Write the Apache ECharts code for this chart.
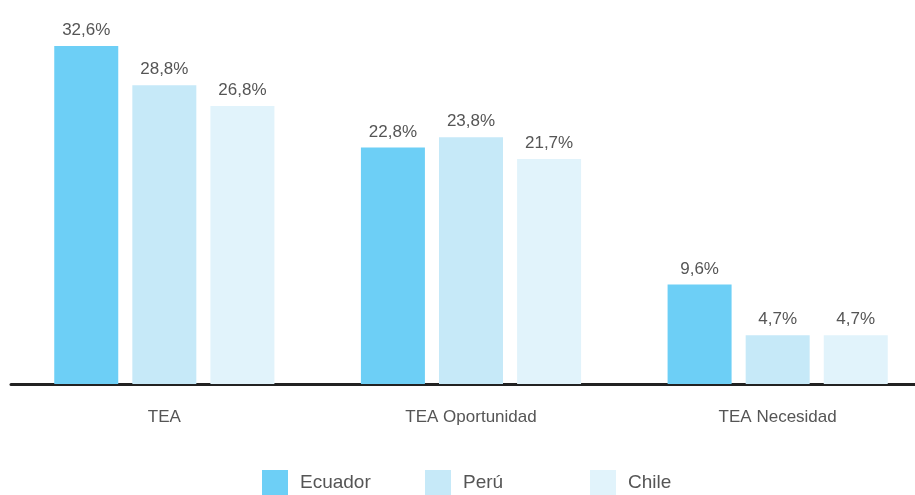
<!DOCTYPE html>
<html>
<head>
<meta charset="utf-8">
<script src="https://cdn.jsdelivr.net/npm/echarts@6/dist/echarts.min.js"></script>
<style>
  html, body { margin: 0; padding: 0; background: #fff; overflow: hidden; }
  #chart { width: 935px; height: 495px; }
</style>
</head>
<body>
<div id="chart"></div>
<script>
var categories = ['TEA', 'TEA Oportunidad', 'TEA Necesidad'];
var seriesNames = ['Ecuador', 'Perú', 'Chile'];
var ecuador = [32.6, 22.8, 9.6];
var peru = [28.8, 23.8, 4.7];
var chile = [26.8, 21.7, 4.7];
var colors = ['#6dcff6', '#c6e9f8', '#e1f3fb'];

var chart = echarts.init(document.getElementById('chart'));
var font = 'Liberation Sans, Arial, sans-serif';

function makeSeries(name, data, color) {
    return {
        name: name,
        type: 'bar',
        data: data,
        barWidth: 64,
        barGap: '22%',
        itemStyle: { color: color },
        label: {
            show: true,
            position: 'top',
            distance: 7,
            color: '#555',
            fontSize: 17,
            fontFamily: font,
            formatter: function (p) { return p.value.toFixed(1).replace('.', ',') + '%'; }
        }
    };
}

// one legend per series so each item sits where it does in the picture
var legendLeft = [257, 420, 585];
var legends = seriesNames.map(function (n, i) {
    return {
        left: legendLeft[i],
        top: 465,
        itemWidth: 26,
        itemHeight: 26,
        icon: 'rect',
        textStyle: { color: '#555', fontSize: 19, fontFamily: font, padding: [3, 0, 0, 7] },
        data: [n]
    };
});

var option = {
    animation: false,
    color: colors,
    grid: { left: 11, right: 4, top: 21, bottom: 111 },
    legend: legends,
    xAxis: {
        type: 'category',
        data: categories,
        axisLine: { lineStyle: { color: '#222', width: 3 } },
        axisTick: { show: false },
        axisLabel: { color: '#555', fontSize: 17, fontFamily: font, margin: 25 }
    },
    yAxis: {
        type: 'value',
        min: 0,
        max: 35,
        show: false,
        splitLine: { show: false }
    },
    series: [
        makeSeries(seriesNames[0], ecuador, colors[0]),
        makeSeries(seriesNames[1], peru, colors[1]),
        makeSeries(seriesNames[2], chile, colors[2])
    ]
};
chart.setOption(option);
</script>
</body>
</html>
